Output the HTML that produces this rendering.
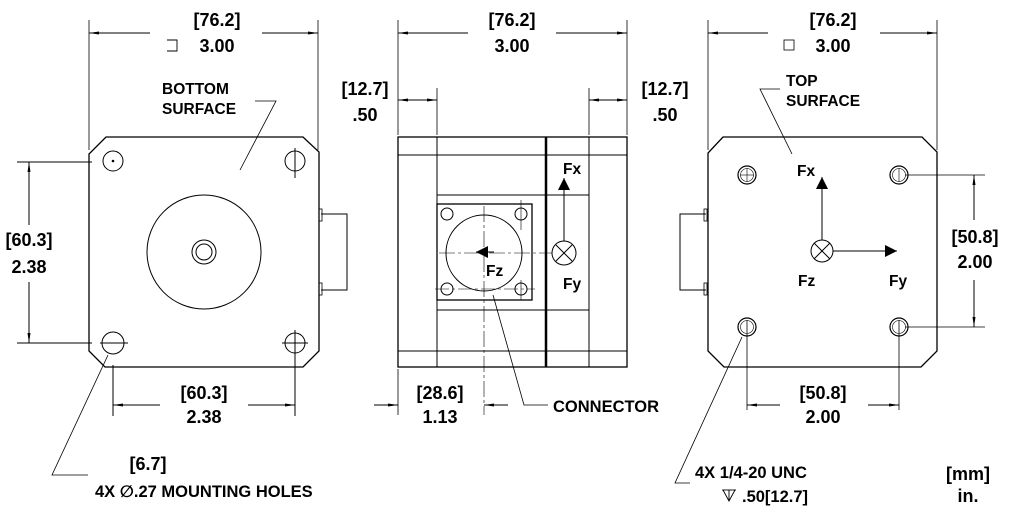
<!DOCTYPE html>
<html><head><meta charset="utf-8"><style>
html,body{margin:0;padding:0;background:#fff;}
svg{display:block;}
text{font-family:"Liberation Sans","DejaVu Sans",sans-serif;font-weight:bold;font-size:18px;fill:#000;}
.t{font-size:15.5px;}
</style></head><body>
<svg width="1024" height="522" viewBox="0 0 1024 522" xmlns="http://www.w3.org/2000/svg">
<defs>
<marker id="a" viewBox="0 0 10 6" refX="10" refY="3" markerWidth="10" markerHeight="6" orient="auto-start-reverse" markerUnits="userSpaceOnUse"><path d="M0,1.5 L10,3 L0,4.5z" fill="#000"/></marker>
<marker id="b" viewBox="0 0 12 12" refX="12" refY="6" markerWidth="12" markerHeight="12" orient="auto" markerUnits="userSpaceOnUse"><path d="M0,0 L12,6 L0,12z" fill="#000"/></marker>
</defs>
<g stroke="#000" fill="none" stroke-width="1">
<!-- LEFT VIEW -->
<path d="M106,137 L303,137 L319,152 L319,351 L303,367 L105,367 L89,351 L89,154 Z" stroke-width="1.3"/>
<circle cx="113" cy="161" r="10"/><circle cx="113" cy="161" r="0.8" fill="#000"/>
<circle cx="295" cy="161" r="10"/><line x1="295" y1="148" x2="295" y2="178"/>
<circle cx="113" cy="343" r="11"/><line x1="100" y1="343" x2="128" y2="343"/>
<circle cx="295" cy="343" r="10"/><line x1="282" y1="343" x2="308" y2="343"/><line x1="295" y1="330" x2="295" y2="370"/>
<circle cx="204" cy="252" r="57"/>
<circle cx="204" cy="252" r="12"/><circle cx="204" cy="252" r="8"/>
<path d="M321,214 L347,214 L347,290 L321,290"/>
<rect x="319" y="209" width="3" height="12" stroke-width="0.8"/><rect x="319" y="283" width="3" height="12" stroke-width="0.8"/>
<line x1="89" y1="20" x2="89" y2="150" stroke-width="0.8"/><line x1="318" y1="20" x2="318" y2="150" stroke-width="0.8"/>
<line x1="150" y1="33" x2="89" y2="33" marker-end="url(#a)"/><line x1="262" y1="33" x2="318" y2="33" marker-end="url(#a)"/>
<line x1="17" y1="162" x2="92" y2="162"/><line x1="17" y1="343" x2="92" y2="343"/>
<line x1="29" y1="225" x2="29" y2="162" marker-end="url(#a)"/><line x1="29" y1="282" x2="29" y2="343" marker-end="url(#a)"/>
<line x1="113" y1="365" x2="113" y2="416"/><line x1="295" y1="365" x2="295" y2="416"/>
<line x1="160" y1="405" x2="113" y2="405" marker-end="url(#a)"/><line x1="248" y1="405" x2="295" y2="405" marker-end="url(#a)"/>
<polyline points="255,101 276,101 240,170" stroke-width="0.8"/>
<polyline points="108,355 52,475 88,475" stroke-width="0.8"/>
<path d="M167,40 L177,40 L177,51 L167,51" stroke-width="0.9"/>
<!-- MIDDLE VIEW -->
<rect x="398" y="137" width="229" height="230" stroke-width="1.3"/>
<line x1="437" y1="137" x2="437" y2="367"/><line x1="589" y1="137" x2="589" y2="367"/>
<line x1="546" y1="137" x2="546" y2="367" stroke-width="2.5"/>
<line x1="398" y1="155" x2="627" y2="155"/><line x1="398" y1="351" x2="627" y2="351"/>
<line x1="437" y1="195" x2="589" y2="195"/><line x1="437" y1="310" x2="589" y2="310"/>
<rect x="437" y="204" width="95" height="96" stroke-width="1.3"/>
<circle cx="484" cy="253" r="38"/>
<circle cx="447" cy="214" r="6"/><circle cx="521" cy="214" r="6"/><circle cx="447" cy="289" r="6"/><circle cx="521" cy="289" r="6"/>
<line x1="521" y1="200" x2="521" y2="230" stroke-width="0.6"/><line x1="435" y1="289" x2="535" y2="289" stroke-width="0.6" stroke-dasharray="14,3,3,3"/><line x1="521" y1="280" x2="521" y2="300" stroke-width="0.6"/>
<line x1="484" y1="206" x2="484" y2="415" stroke-width="0.6" stroke-dasharray="16,3,3,3"/>
<line x1="439" y1="253" x2="552" y2="253" stroke-width="0.6" stroke-dasharray="16,3,3,3"/>
<line x1="564" y1="241" x2="564" y2="178" marker-end="url(#b)"/>
<circle cx="564" cy="253" r="12"/><line x1="556" y1="245" x2="572" y2="261"/><line x1="572" y1="245" x2="556" y2="261"/>
<line x1="494" y1="252" x2="476" y2="252" marker-end="url(#b)"/>
<line x1="398" y1="20" x2="398" y2="135" stroke-width="0.8"/><line x1="627" y1="20" x2="627" y2="135" stroke-width="0.8"/>
<line x1="468" y1="33" x2="398" y2="33" marker-end="url(#a)"/><line x1="556" y1="33" x2="627" y2="33" marker-end="url(#a)"/>
<line x1="437" y1="88" x2="437" y2="135" stroke-width="0.8"/><line x1="589" y1="88" x2="589" y2="135" stroke-width="0.8"/>
<line x1="418" y1="100" x2="398" y2="100" marker-end="url(#a)"/><line x1="418" y1="100" x2="437" y2="100" marker-end="url(#a)"/>
<line x1="608" y1="100" x2="589" y2="100" marker-end="url(#a)"/><line x1="608" y1="100" x2="627" y2="100" marker-end="url(#a)"/>
<line x1="398" y1="369" x2="398" y2="415" stroke-width="0.8"/>
<line x1="374" y1="405" x2="398" y2="405" marker-end="url(#a)"/><line x1="508" y1="405" x2="484" y2="405" marker-end="url(#a)"/>
<polyline points="493,295 524,405 548,405" stroke-width="0.8"/>
<!-- RIGHT VIEW -->
<path d="M723,137 L922,137 L937,152 L937,351 L921,367 L724,367 L708,351 L708,153 Z" stroke-width="1.3"/>
<g stroke-width="1.2">
<circle cx="747" cy="175" r="9"/><circle cx="747" cy="175" r="6.5" stroke-width="0.6"/>
<circle cx="899" cy="175" r="9"/><circle cx="899" cy="175" r="6.5" stroke-width="0.6"/>
<circle cx="747" cy="327" r="9"/><circle cx="747" cy="327" r="6.5" stroke-width="0.6"/>
<circle cx="899" cy="327" r="9"/><circle cx="899" cy="327" r="6.5" stroke-width="0.6"/>
</g>
<line x1="740" y1="175" x2="754" y2="175" stroke-width="0.6"/><line x1="747" y1="168" x2="747" y2="182" stroke-width="0.6"/>
<line x1="899" y1="168" x2="899" y2="182" stroke-width="0.6"/>
<line x1="747" y1="320" x2="747" y2="410" stroke-width="0.8"/><line x1="899" y1="320" x2="899" y2="410" stroke-width="0.8"/>
<line x1="822" y1="240" x2="822" y2="177" marker-end="url(#b)"/>
<circle cx="822" cy="251" r="11"/><line x1="814" y1="243" x2="830" y2="259"/><line x1="830" y1="243" x2="814" y2="259"/>
<line x1="833" y1="251" x2="897" y2="251" marker-end="url(#b)"/>
<path d="M706,214 L680,214 L680,290 L706,290"/>
<rect x="704" y="209" width="3" height="12" stroke-width="0.8"/><rect x="704" y="283" width="3" height="12" stroke-width="0.8"/>
<line x1="708" y1="20" x2="708" y2="150" stroke-width="0.8"/><line x1="937" y1="20" x2="937" y2="150" stroke-width="0.8"/>
<line x1="768" y1="33" x2="708" y2="33" marker-end="url(#a)"/><line x1="880" y1="33" x2="937" y2="33" marker-end="url(#a)"/>
<rect x="784" y="40" width="10" height="10" stroke-width="0.8"/>
<polyline points="780,89 760,89 792,154" stroke-width="0.8"/>
<line x1="905" y1="175" x2="985" y2="175" stroke-width="0.8"/><line x1="905" y1="327" x2="985" y2="327" stroke-width="0.8"/>
<line x1="974" y1="220" x2="974" y2="175" marker-end="url(#a)"/><line x1="974" y1="280" x2="974" y2="327" marker-end="url(#a)"/>
<line x1="780" y1="405" x2="747" y2="405" marker-end="url(#a)"/><line x1="868" y1="405" x2="899" y2="405" marker-end="url(#a)"/>
<polyline points="742,337 675,483 690,483" stroke-width="0.8"/>
<!-- depth symbol -->
<line x1="722" y1="490" x2="736" y2="490" stroke-width="0.9"/>
<polyline points="723,490 729,501 735,490" stroke-width="0.9"/>
<line x1="729" y1="490" x2="729" y2="501" stroke-width="0.9"/>
</g>
<g>
<text x="217" y="26" text-anchor="middle">[76.2]</text><text x="217" y="52" text-anchor="middle">3.00</text>
<text x="162" y="94" class="t">BOTTOM</text><text x="162" y="114" class="t">SURFACE</text>
<text x="29" y="246" text-anchor="middle">[60.3]</text><text x="29" y="273" text-anchor="middle">2.38</text>
<text x="204" y="399" text-anchor="middle">[60.3]</text><text x="204" y="423" text-anchor="middle">2.38</text>
<text x="148" y="470" text-anchor="middle">[6.7]</text>
<text x="95" y="497" class="t" style="font-size:16.5px">4X ∅.27 MOUNTING HOLES</text>
<text x="512" y="26" text-anchor="middle">[76.2]</text><text x="512" y="52" text-anchor="middle">3.00</text>
<text x="365" y="95" text-anchor="middle">[12.7]</text><text x="365" y="121" text-anchor="middle">.50</text>
<text x="665" y="95" text-anchor="middle">[12.7]</text><text x="665" y="121" text-anchor="middle">.50</text>
<text x="563" y="174" class="t">Fx</text><text x="563" y="289" class="t">Fy</text><text x="486" y="276" class="t">Fz</text>
<text x="553" y="412" class="t" style="font-size:16.5px">CONNECTOR</text>
<text x="440" y="399" text-anchor="middle">[28.6]</text><text x="440" y="423" text-anchor="middle">1.13</text>
<text x="833" y="26" text-anchor="middle">[76.2]</text><text x="833" y="52" text-anchor="middle">3.00</text>
<text x="786" y="86" class="t">TOP</text><text x="786" y="106" class="t">SURFACE</text>
<text x="797" y="176" class="t">Fx</text><text x="798" y="286" class="t">Fz</text><text x="889" y="286" class="t">Fy</text>
<text x="975" y="243" text-anchor="middle">[50.8]</text><text x="975" y="268" text-anchor="middle">2.00</text>
<text x="823" y="399" text-anchor="middle">[50.8]</text><text x="823" y="423" text-anchor="middle">2.00</text>
<text x="695" y="478" class="t" style="font-size:16.5px">4X 1/4-20 UNC</text>
<text x="742" y="502" class="t" style="font-size:16.5px">.50[12.7]</text>
<text x="968" y="480" text-anchor="middle">[mm]</text><text x="968" y="502" text-anchor="middle">in.</text>
</g>
</svg>
</body></html>
